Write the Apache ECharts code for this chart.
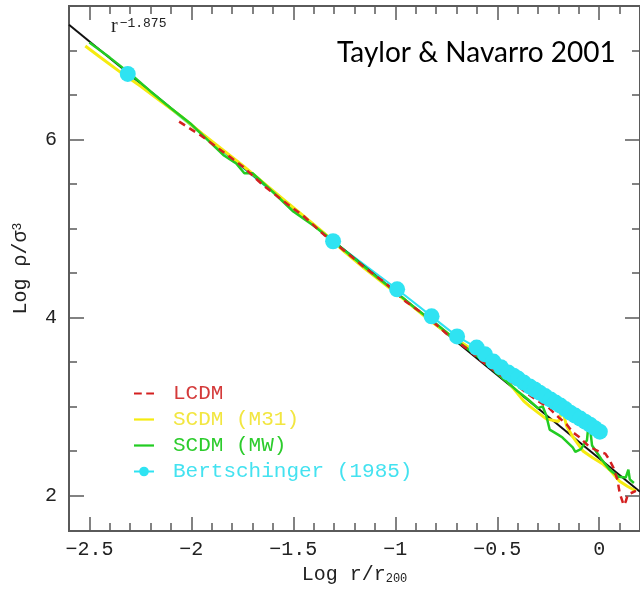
<!DOCTYPE html>
<html>
<head>
<meta charset="utf-8">
<script src="https://cdn.jsdelivr.net/npm/echarts@6/dist/echarts.min.js"></script>
<style>html,body{margin:0;padding:0;background:#fff;}#c{width:640px;height:592px;}</style>
</head>
<body>
<div id="c"></div>
<script>
// ---- tick positions ----
const xMajorTicks = [-2.5, -2, -1.5, -1, -0.5, 0];
const xMinorTicks = [-2.6,-2.5,-2.4,-2.3,-2.2,-2.1,-2,-1.9,-1.8,-1.7,-1.6,-1.5,-1.4,-1.3,-1.2,-1.1,-1,-0.9,-0.8,-0.7,-0.6,-0.5,-0.4,-0.3,-0.2,-0.1,0,0.1,0.2];
const yMajorTicks = [2, 4, 6];
const yMinorTicks = [2,2.5,3,3.5,4,4.5,5,5.5,6,6.5,7,7.5];

// ---- power-law fit r^-1.875 (end points) ----
const fitX = [-2.6, 0.2];
const fitY = [7.29, 2.04];

// ---- LCDM (red dashed) ----
const lcdmX = [-2.06,-1.95,-1.85,-1.75,-1.65,-1.55,-1.45,-1.35,-1.25,-1.15,-1.05,-0.95,-0.85,-0.75,-0.65,-0.55,-0.45,-0.40,-0.35,-0.30,-0.25,-0.20,-0.16,-0.13,-0.10,-0.05,0.0,0.03,0.05,0.07,0.09,0.10,0.12,0.13,0.14,0.16,0.18];
const lcdmY = [6.20,6.04,5.87,5.70,5.49,5.31,5.14,4.93,4.75,4.56,4.39,4.18,4.02,3.82,3.65,3.46,3.30,3.23,3.14,3.06,2.99,2.88,2.80,2.71,2.66,2.55,2.49,2.47,2.40,2.31,2.17,2.03,1.89,1.93,2.01,2.03,2.05];

// ---- SCDM (M31) (yellow) ----
const m31X = [-2.52,-2.45,-2.35,-2.25,-2.15,-2.05,-1.95,-1.85,-1.75,-1.65,-1.55,-1.45,-1.35,-1.25,-1.15,-1.05,-0.95,-0.85,-0.75,-0.65,-0.60,-0.55,-0.50,-0.45,-0.42,-0.37,-0.34,-0.30,-0.26,-0.20,-0.18,-0.16,-0.13,-0.08,-0.03,0.02,0.05,0.10,0.14,0.18];
const m31Y = [7.05,6.93,6.76,6.60,6.43,6.26,6.07,5.89,5.71,5.52,5.33,5.14,4.95,4.74,4.55,4.37,4.19,4.00,3.83,3.68,3.60,3.50,3.38,3.28,3.20,3.06,3.00,2.93,2.86,2.83,2.96,2.78,2.66,2.50,2.42,2.35,2.29,2.16,2.10,2.05];

// ---- SCDM (MW) (green) ----
const mwX = [-2.50,-2.40,-2.30,-2.20,-2.10,-2.00,-1.90,-1.84,-1.78,-1.74,-1.70,-1.60,-1.55,-1.50,-1.40,-1.30,-1.20,-1.10,-1.00,-0.90,-0.80,-0.70,-0.60,-0.50,-0.45,-0.40,-0.35,-0.30,-0.277,-0.26,-0.243,-0.20,-0.18,-0.13,-0.117,-0.09,-0.06,-0.05,-0.035,0.01,0.05,0.095,0.13,0.143,0.15,0.17];
const mwY = [7.09,6.92,6.74,6.54,6.35,6.17,5.95,5.82,5.73,5.62,5.62,5.41,5.30,5.19,5.03,4.85,4.66,4.47,4.29,4.10,3.93,3.74,3.57,3.37,3.27,3.17,3.08,2.98,3.00,2.90,2.74,2.68,2.65,2.54,2.49,2.52,2.62,2.86,2.56,2.41,2.29,2.21,2.20,2.29,2.18,2.14];

// ---- Bertschinger (1985) (cyan points) ----
const bertX = [-2.312,-1.305,-0.991,-0.822,-0.697,-0.601,-0.560,-0.519,-0.482,-0.446,-0.420,-0.398,-0.370,-0.340,-0.316,-0.292,-0.265,-0.238,-0.214,-0.190,-0.166,-0.142,-0.118,-0.093,-0.069,-0.045,-0.021,0.003];
const bertY = [6.737,4.856,4.316,4.012,3.787,3.661,3.585,3.504,3.440,3.380,3.345,3.313,3.268,3.223,3.190,3.155,3.116,3.077,3.043,3.009,2.970,2.930,2.897,2.863,2.829,2.795,2.756,2.716];

const zip = (a, b) => a.map((v, i) => [v, b[i]]);

const AX = '#5a5a5a';
const MONO = '"Liberation Mono", "DejaVu Sans Mono", monospace';
const fmt = v => (v < 0 ? '\u2212' : '') + Math.abs(v);

function xAxisDef(pos, ticks, len, labels, extra) {
  return Object.assign({
    type: 'value', position: pos, min: -2.6, max: 0.2,
    axisLine: { show: true, onZero: false, lineStyle: { color: AX, width: 2 } },
    axisTick: { show: true, inside: true, length: len, customValues: ticks, lineStyle: { color: AX, width: 1.5 } },
    axisLabel: labels ? { show: true, customValues: ticks, formatter: fmt, margin: 9, fontFamily: MONO, fontSize: 20, color: '#222' } : { show: false },
    splitLine: { show: false }
  }, extra || {});
}
function yAxisDef(pos, ticks, len, labels, extra) {
  return Object.assign({
    type: 'value', position: pos, min: 1.6, max: 7.5,
    axisLine: { show: true, onZero: false, lineStyle: { color: AX, width: 2 } },
    axisTick: { show: true, inside: true, length: len, customValues: ticks, lineStyle: { color: AX, width: 1.5 } },
    axisLabel: labels ? { show: true, customValues: ticks, formatter: fmt, margin: 12, fontFamily: MONO, fontSize: 20, color: '#222' } : { show: false },
    splitLine: { show: false }
  }, extra || {});
}

const chart = echarts.init(document.getElementById('c'), null, { renderer: 'canvas' });
chart.setOption({
  backgroundColor: '#ffffff',
  animation: false,
  grid: { left: 69, top: 6, right: -8, bottom: 61, containLabel: false },
  title: {
    text: 'Taylor & Navarro 2001', left: 332, top: 34,
    textStyle: { fontFamily: 'Lato', fontWeight: 'normal', fontSize: 28, color: '#000' }
  },
  graphic: [{
    type: 'text', left: 111, top: 17,
    style: {
      text: '{r|r}{s|\u22121.875}',
      rich: {
        r: { fontFamily: '"Liberation Serif", serif', fontSize: 20, fill: '#222' },
        s: { fontFamily: MONO, fontSize: 13, fill: '#222', verticalAlign: 'top', padding: [0, 0, 0, 2] }
      }
    }
  }],
  legend: {
    orient: 'vertical', left: 128, top: 378, itemWidth: 20, itemHeight: 12, itemGap: 5,
    selectedMode: false,
    textStyle: { fontFamily: MONO, fontSize: 21, padding: [0, 0, 0, 14] },
    data: [
      { name: 'LCDM', icon: 'path://M0,0h7v2h-7z M11,0h7v2h-7z', textStyle: { color: '#d43a3a' } },
      { name: 'SCDM (M31)', icon: 'path://M0,0h18v2h-18z', textStyle: { color: '#f2e640' } },
      { name: 'SCDM (MW)', icon: 'path://M0,0h18v2h-18z', textStyle: { color: '#2ccc2c' } },
      { name: 'Bertschinger (1985)', textStyle: { color: '#44e2f0' } }
    ]
  },
  xAxis: [
    xAxisDef('bottom', xMajorTicks, 14, true, {
      name: '{a|Log r/r}{b|200}', nameLocation: 'middle', nameGap: 31,
      nameTextStyle: { rich: {
        a: { fontFamily: MONO, fontSize: 20, color: '#222' },
        b: { fontFamily: MONO, fontSize: 12, color: '#222', verticalAlign: 'bottom' }
      } }
    }),
    xAxisDef('bottom', xMinorTicks, 8, false),
    xAxisDef('top', xMajorTicks, 14, false),
    xAxisDef('top', xMinorTicks, 8, false)
  ],
  yAxis: [
    yAxisDef('left', yMajorTicks, 15, true, {
      name: '{a|Log \u03c1/\u03c3}{b|3}', nameLocation: 'middle', nameGap: 38, nameRotate: 90,
      nameTextStyle: { rich: {
        a: { fontFamily: MONO, fontSize: 20, color: '#222' },
        b: { fontFamily: MONO, fontSize: 13, color: '#222', verticalAlign: 'top' }
      } }
    }),
    yAxisDef('left', yMinorTicks, 8, false),
    yAxisDef('right', yMajorTicks, 15, false),
    yAxisDef('right', yMinorTicks, 8, false)
  ],
  series: [
    {
      name: 'Bertschinger (1985)', type: 'line', data: zip(bertX, bertY),
      symbol: 'circle', symbolSize: 16, showSymbol: true,
      itemStyle: { color: '#2fe3f2' }, lineStyle: { color: '#2fe3f2', width: 2 }
    },
    {
      name: 'fit', type: 'line', data: zip(fitX, fitY), symbol: 'none',
      lineStyle: { color: '#111', width: 2 }
    },
    {
      name: 'SCDM (M31)', type: 'line', data: zip(m31X, m31Y), symbol: 'none',
      itemStyle: { color: '#f5eb10' }, lineStyle: { color: '#f5eb10', width: 3 }
    },
    {
      name: 'SCDM (MW)', type: 'line', data: zip(mwX, mwY), symbol: 'none',
      itemStyle: { color: '#22cc22' }, lineStyle: { color: '#22cc22', width: 2.5 }
    },
    {
      name: 'LCDM', type: 'line', data: zip(lcdmX, lcdmY), symbol: 'none',
      itemStyle: { color: '#d42020' }, lineStyle: { color: '#d42020', width: 2.5, type: [7, 5] }
    }
  ]
});
</script>
</body>
</html>
